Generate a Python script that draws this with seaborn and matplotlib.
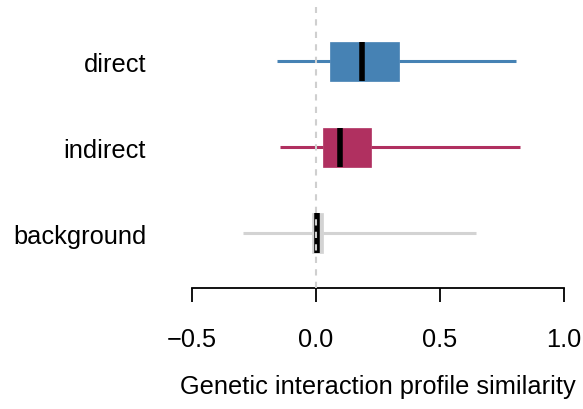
import numpy as np
import pandas as pd
import matplotlib
matplotlib.use("Agg")
import matplotlib.pyplot as plt
import seaborn as sns

# Five-number summaries (whisker low, Q1, median, Q3, whisker high)
categories = ["direct", "indirect", "background"]
direct_vals = [-0.159, 0.057, 0.186, 0.333, 0.806]
indirect_vals = [-0.145, 0.027, 0.098, 0.223, 0.822]
background_vals = [-0.293, -0.018, 0.003, 0.028, 0.646]
colors = ["#4682B4", "#B03060", "#D3D3D3"]
xticks = [-0.5, 0.0, 0.5, 1.0]
xlabel = "Genetic interaction profile similarity"

df = pd.DataFrame({
    "category": np.repeat(categories, 5),
    "value": direct_vals + indirect_vals + background_vals,
})

sns.set_theme(style="white")
plt.rcParams["font.family"] = ["Liberation Sans", "DejaVu Sans"]
plt.rcParams["text.color"] = "black"
plt.rcParams["xtick.color"] = "black"
plt.rcParams["ytick.color"] = "black"
plt.rcParams["axes.labelcolor"] = "black"

fig = plt.figure(figsize=(5.83, 4.10), dpi=100)
ax = fig.add_axes([192 / 583, 1 - 289 / 410, (564 - 192) / 583, (289 - 8) / 410])

for cat, col in zip(categories, colors):
    sns.boxplot(
        data=df[df["category"] == cat], x="value", y="category", order=categories,
        color=col, linecolor=col, saturation=1, width=0.46, whis=(0, 100),
        showcaps=False, showfliers=False, linewidth=2.2, ax=ax,
        boxprops=dict(linewidth=0.5),
        medianprops=dict(color="black", linewidth=4.0, solid_capstyle="butt"),
    )

ax.axvline(0, color="#cfcfcf", linestyle=(0, (3, 3)), linewidth=1.5, zorder=10)

ax.set_xlim(-0.5, 1.0)
ax.set_ylim(2.64, -0.634)
ax.set_xticks(xticks)
ax.set_xticklabels([f"{t:.1f}".replace("-", "\u2212") for t in xticks])
ax.set_xlabel(xlabel, fontsize=18.3, labelpad=16.5)
ax.set_ylabel("")

for s in ["top", "right", "left"]:
    ax.spines[s].set_visible(False)
ax.spines["bottom"].set_color("black")
ax.spines["bottom"].set_linewidth(1.3)
ax.tick_params(axis="x", direction="out", length=10, width=1.3, color="black",
               pad=18, labelsize=18.3, bottom=True, labelcolor="black")
ax.tick_params(axis="y", length=0, pad=33, labelsize=18.3, labelcolor="black")

fig.savefig("out.png", dpi=100)
